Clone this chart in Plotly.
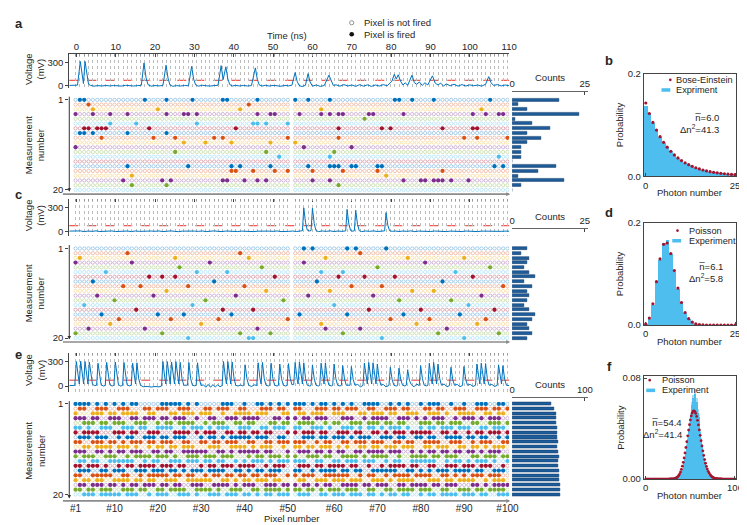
import plotly.graph_objects as go

W, H = 747, 525
FONT = "Liberation Sans, Arial, sans-serif"
TXT = "#262626"
FS = 9.5

# ---------------- data ----------------
ROW_COLORS = ["#0072BD", "#D95319", "#EDB120", "#7E2F8E", "#77AC30", "#4DBEEE", "#A2142F"]
N_PIXELS = 100
N_MEAS = 20
THRESH_MV = 72

# panel a: fired pixels for each measurement (1..20)
A_FIRED = [
    [2, 3, 17, 22, 28, 35, 36, 43, 51, 54, 59, 74, 75, 78, 83, 96],
    [4, 41],
    [5, 20, 39, 57, 94],
    [1, 5, 9, 13, 22, 26, 27, 29, 43, 46, 47, 52, 57, 59, 61, 62, 68, 69, 76, 92, 95, 98, 99],
    [67],
    [9, 15, 29, 42, 43, 45, 50],
    [3, 4, 6, 7, 8, 18, 38, 61, 71, 73, 85, 92, 93],
    [2, 3, 5, 13, 22],
    [7, 19, 24, 33, 35, 50, 61, 90, 93, 100],
    [26, 31, 37, 46, 51],
    [1, 53, 64],
    [24, 45, 60],
    [48, 59, 98],
    [],
    [13, 27, 37, 39, 46, 54, 59, 60, 61, 64, 65, 70, 71, 97, 99],
    [37, 38, 42, 47, 50, 55, 62, 70, 85],
    [14, 72],
    [12, 21, 23, 35, 36, 40, 43, 45, 55, 59, 76, 80, 81, 83, 84, 85, 87, 91],
    [14, 22, 61],
    [],
]
# panel c: fired pixels
C_FIRED = [
    [53, 55, 63, 65, 72],
    [13, 39, 66],
    [2, 24, 41, 58, 77, 90],
    [1, 14, 32, 53, 81],
    [25, 44, 70, 96],
    [8, 29, 36, 57, 62, 88],
    [18, 21, 24, 47, 61, 67, 74, 92],
    [5, 33, 56, 85],
    [12, 16, 27, 40, 64, 71, 99],
    [22, 45, 59, 78, 83],
    [6, 19, 38, 54, 69, 94],
    [10, 31, 49, 75, 87],
    [3, 28, 60, 91],
    [15, 35, 42, 68, 80, 97],
    [7, 20, 26, 37, 52, 63, 76, 89],
    [11, 23, 34, 50, 73, 82, 95],
    [9, 30, 57, 79, 93],
    [4, 17, 43, 58, 66, 86],
    [1, 21, 39, 46, 62, 84, 98],
    [27, 41, 42, 71, 90],
]
# panel e: first measurement as list, the others as fired(1)/not fired(0) strings
E_ROW1 = [1, 2, 3, 4, 6, 8, 10, 12, 14, 15, 21, 22, 23, 24, 25, 27, 29, 35, 36, 37, 40, 43, 44, 46, 48, 50,
          51, 52, 53, 55, 57, 58, 60, 62, 64, 67, 68, 69, 70, 73, 75, 77, 80, 82, 83, 84, 87, 90, 93, 94, 95,
          98, 99]
E_ROWS = [
    "0110011100 1110001101 1100111000 1101110011 0001110110 1100011101 1011100110 0111011000 1101100111 0011101101",
    "1000111011 0111100110 0011011101 1100100111 1011100011 0110111001 1100011011 1011001110 0111010011 1100110110",
    "1110110011 1001101110 1101110010 0110011101 1110001101 1011011100 0111001011 1100111010 1011100101 1101011100",
    "0011101101 1100111001 0110111100 1011100110 1100011011 0111100101 1001110111 0110110001 1101101110 0110011101",
    "1101001110 0111011001 1110010111 0101110011 1001101110 1100111010 0111010110 1011101001 0110111011 1001101110",
    "1011110001 1101100111 0001111010 1110011011 0110110001 1011101100 1110110011 0101110111 1100110100 1011011101",
    "0111011100 1011001110 1101110001 0110101111 1011100110 0011101101 1101011100 1110110011 0110011110 1101100101",
    "1100111011 0101110110 1110011001 1011011100 1100110111 1110010110 0110111011 1001101100 1111001110 0101110011",
    "0011011110 1110100101 1011011100 0111001111 0101110010 1101101110 1010011011 0111011100 1101110011 0110101110",
    "1110011010 1101110011 0110011111 1001101011 1110110001 0111011010 1100110111 1011100101 0110110110 1101011100",
    "1011100111 0010111101 1101001110 1110111000 1011011101 1001110110 0111101011 1100100111 1011011100 0110111011",
    "0110110011 1111001011 0011101110 1101100101 0111010111 1110011001 1011101110 0101100111 1110010110 1011101001",
    "1101110100 1011011110 1110110001 0110111011 1100101110 0111011011 1101100100 1011110110 0110011101 1101110010",
    "0111001101 1100111011 1011010111 0111100110 1011011100 1100101111 0110110011 1111001101 0101110111 1011001110",
    "1100111110 0110010111 1101101100 1011011011 0110111001 1011100111 1110010110 0101111011 1100110101 0111011100",
    "1011011001 1110110110 0111001111 1100110101 1011101100 0110011101 1101110011 1010111100 0111011011 1100101110",
    "0110111011 0101101110 1101100111 0011110101 1100111011 1011010110 0111101101 1100110111 1011011100 0110101111",
    "1101101110 0111011001 1011110011 1101001110 0110111101 1101101011 1011100110 0110111101 1100110011 1011011110",
    "0011101111 1011100101 1100111010 0111011101 1010110111 0111001101 1101110110 1011011001 0110111101 1101100111",
]

# voltage traces (time ns, mV)
VA_KNOTS = [
    (-1.8, 4), (-1.5, 5), (-0.5, 3), (0.3, 8), (1.0, 320), (1.5, 120), (1.8, 30), (2.2, 320), (2.7, 110),
    (3.1, 20), (3.6, 5), (4.5, -5), (5.5, 2), (6.5, -3), (7.5, 4), (8.5, -2), (9.5, 3), (10.5, 0),
    (11.5, -4), (12.5, 6), (13.5, 0), (14.5, -3), (15.5, 2), (16.5, 5), (17.2, 300), (17.7, 110),
    (18.2, 15), (19, -5), (20, 3), (21, -2), (22, 4), (22.8, 270), (23.3, 100), (23.8, 10), (24.5, -6),
    (25.5, 2), (26.5, -3), (27.5, 4), (28.5, 0), (29.3, 255), (29.8, 90), (30.3, 12), (31, -5), (32, 6),
    (33, 0), (34, -4), (35, 3), (36, 6), (36.8, 265), (37.3, 80), (38.0, 250), (38.5, 90), (39, 15),
    (39.6, -3), (40.5, 5), (41.5, -2), (42.5, 4), (43.5, -3), (44.5, 2), (45.5, 235), (46, 80), (46.5, 10),
    (47.2, -4), (48, 6), (49, -3), (50, 4), (51, 0), (52, -6), (53, 5), (54, -2), (54.8, 8), (55.6, 175),
    (56.1, 60), (56.6, 5), (57.3, -10), (58.2, 5), (58.9, 160), (59.4, 50), (60, -5), (61, 10), (62, -8),
    (63, 3), (64.2, 140), (64.8, 50), (65.3, 5), (66, 12), (67, -5), (68, 15), (69, -3), (70, 10), (71, -8),
    (72, 14), (73, -5), (74, 12), (75, -8), (76, 10), (77, -4), (78, 15), (79, 0), (80.2, 60), (80.8, 150),
    (81.3, 90), (81.8, 145), (82.4, 60), (83, 10), (83.6, 40), (84.2, 5), (85.3, 140), (85.9, 40),
    (86.5, 20), (87.2, 50), (87.9, 5), (88.6, 40), (89.3, 10), (90.5, 130), (91.2, 35), (91.9, 10),
    (92.6, 35), (93.3, -5), (94, 25), (95, 0), (96, 20), (97, -5), (98, 15), (99, -3), (100, 12), (101, 0),
    (102, 10), (103, -5), (104, 20), (104.8, 120), (105.4, 40), (106, 5), (107, 15), (108, -2), (109, 10),
    (110, 0),
]
VC_KNOTS = [
    (-1.8, 3), (-1, 5), (0, 0), (1, 6), (2, -3), (3, 4), (4, 0), (5, 6), (6, -2), (7, 3), (8, 0), (9, 5),
    (10, -2), (11, 3), (12, 0), (13, 4), (14, -3), (15, 5), (16, 0), (17, 3), (18, -2), (19, 4), (20, 1),
    (21, 5), (22, -3), (23, 2), (24, 6), (25, 0), (26, -4), (27, 3), (28, 5), (29, -2), (30, 3), (31, 0),
    (32, 5), (33, -3), (34, 2), (35, 6), (36, 0), (37, -3), (38, 4), (39, 1), (40, 5), (41, -2), (42, 3),
    (43, 0), (44, 6), (45, -3), (46, 2), (47, 4), (48, -2), (49, 3), (50, 0), (51, 5), (52, -3), (53, 3),
    (54, 0), (55, 4), (56, -2), (57, 5), (57.45, 8), (57.8, 300), (58.25, 110), (58.7, 15), (59.3, 5),
    (59.65, 10), (60.0, 295), (60.45, 100), (60.9, 10), (61.5, -3), (62.5, 5), (63.5, 0), (64.5, 6),
    (65.5, -2), (66.5, 4), (67.5, 0), (68.45, 6), (68.8, 280), (69.25, 95), (69.7, 10), (70.3, 2),
    (70.65, 8), (71.0, 270), (71.45, 90), (71.9, 8), (72.5, -3), (73.5, 5), (74.5, 0), (75.5, 6),
    (76.5, -2), (77.5, 4), (78.35, 6), (78.7, 240), (79.15, 80), (79.6, 8), (80.3, 0), (81, 5), (82, -2),
    (83, 4), (84, 0), (85, 6), (86, -3), (87, 3), (88, 0), (89, 5), (90, -2), (91, 4), (92, 0), (93, 5),
    (94, -3), (95, 3), (96, 0), (97, 5), (98, -2), (99, 4), (100, 0), (101, 5), (102, -3), (103, 3),
    (104, 1), (105, 5), (106, -2), (107, 4), (108, 0), (109, 3), (110, 1),
]
VE_KNOTS = [
    (-1.8, 5), (-0.4, 8), (0.0, 300), (0.45, 110), (0.75, 25), (1.1, 305), (1.55, 110), (1.85, 25),
    (2.2, 300), (2.65, 110), (2.95, 25), (3.3, 295), (3.75, 100), (4.1, 20), (4.7, 5), (5.15, 10),
    (5.5, 280), (5.95, 100), (6.3, 15), (6.9, 0), (7.35, 8), (7.7, 290), (8.15, 100), (8.5, 15), (9.1, 0),
    (9.55, 8), (9.9, 295), (10.35, 100), (10.7, 15), (11.3, 0), (11.75, 8), (12.1, 290), (12.55, 100),
    (12.9, 15), (13.5, 2), (13.95, 10), (14.3, 280), (14.75, 100), (15.05, 25), (15.4, 285), (15.85, 90),
    (16.3, 10), (17, -8), (18, -5), (19, -12), (20, -6), (21, -10), (21.65, 0), (22.0, 300), (22.45, 110),
    (22.75, 25), (23.1, 300), (23.55, 110), (23.85, 25), (24.2, 295), (24.65, 110), (24.95, 25),
    (25.3, 300), (25.75, 100), (26.05, 25), (26.4, 290), (26.85, 90), (27.3, 10), (27.85, 5), (28.25, 10),
    (28.6, 290), (29.05, 90), (29.5, 10), (30.05, 3), (30.45, 10), (30.8, 285), (31.25, 90), (31.7, 5),
    (32.3, 15), (32.9, -15), (33.5, 20), (34.1, -15), (34.7, 18), (35.3, -12), (35.9, 15), (36.5, -8),
    (37.05, 5), (37.4, 300), (37.85, 110), (38.15, 25), (38.5, 300), (38.95, 110), (39.25, 25),
    (39.6, 295), (40.05, 100), (40.5, 10), (41.1, 0), (41.7, 12), (42.3, 2), (42.55, 10), (42.9, 260),
    (43.35, 90), (43.8, 10), (44.5, -5), (45.3, 15), (45.85, 5), (46.2, 285), (46.65, 100), (46.95, 25),
    (47.3, 290), (47.75, 90), (48.2, 10), (48.8, 0), (49.15, 8), (49.5, 280), (49.95, 90), (50.4, 10),
    (51, 0), (51.35, 8), (51.7, 270), (52.15, 90), (52.6, 10), (53.2, 0), (53.55, 8), (53.9, 275),
    (54.35, 95), (54.8, 15), (55.25, 20), (55.6, 290), (56.05, 100), (56.35, 25), (56.7, 295),
    (57.15, 100), (57.45, 25), (57.8, 285), (58.25, 90), (58.7, 10), (59.3, 0), (59.65, 8), (60.0, 260),
    (60.45, 90), (60.9, 10), (61.5, 0), (61.85, 8), (62.2, 280), (62.65, 95), (62.95, 25), (63.3, 285),
    (63.75, 90), (64.2, 10), (64.8, 2), (65.15, 8), (65.5, 270), (65.95, 90), (66.4, 10), (67, 0),
    (67.35, 8), (67.7, 250), (68.15, 85), (68.6, 10), (69.2, 5), (69.55, 10), (69.9, 240), (70.35, 80),
    (70.8, 10), (71.5, 20), (72.2, -10), (72.85, 8), (73.2, 280), (73.65, 100), (73.95, 25), (74.3, 290),
    (74.75, 100), (75.05, 25), (75.4, 285), (75.85, 100), (76.15, 25), (76.5, 270), (76.95, 90),
    (77.4, 10), (78, 20), (78.7, -10), (79.45, 8), (79.8, 230), (80.25, 80), (80.7, 10), (81.3, 0),
    (81.65, 8), (82.0, 220), (82.45, 75), (82.9, 10), (83.5, 0), (83.85, 10), (84.2, 200), (84.65, 70),
    (85.1, 20), (85.8, -10), (86.5, 25), (87.15, 5), (87.5, 250), (87.95, 90), (88.4, 10), (89, 2),
    (89.35, 10), (89.7, 280), (90.15, 100), (90.45, 25), (90.8, 290), (91.25, 100), (91.55, 25),
    (91.9, 270), (92.35, 90), (92.8, 10), (93.5, 25), (94.2, -10), (94.85, 8), (95.2, 230), (95.65, 80),
    (96.1, 10), (96.8, 20), (97.5, -8), (98.15, 8), (98.5, 240), (98.95, 85), (99.4, 10), (100.1, 20),
    (100.8, -5), (101.45, 10), (101.8, 270), (102.25, 95), (102.55, 25), (102.9, 280), (103.35, 95),
    (103.65, 25), (104.0, 275), (104.45, 90), (104.9, 10), (105.6, 20), (106.3, -5), (106.95, 8),
    (107.3, 260), (107.75, 90), (108.05, 25), (108.4, 250), (108.85, 85), (109.3, 10), (110, 5),
]

# photon-number statistics
B_N = list(range(26))
B_THEORY = [0.1429, 0.1224, 0.1050, 0.0900, 0.0771, 0.0661, 0.0567, 0.0486, 0.0416, 0.0357, 0.0306, 0.0262,
            0.0225, 0.0193, 0.0165, 0.0142, 0.0121, 0.0104, 0.0089, 0.0077, 0.0066, 0.0056, 0.0048, 0.0041,
            0.0035, 0.0030]
B_EXP = [0.137, 0.121, 0.104, 0.091, 0.078, 0.066, 0.057, 0.049, 0.042, 0.036, 0.031, 0.026, 0.022, 0.019,
         0.016, 0.014, 0.012, 0.010, 0.009, 0.008, 0.007, 0.006, 0.005, 0.004, 0.004, 0.003]
D_N = list(range(26))
D_THEORY = [0.0022, 0.0137, 0.0417, 0.0849, 0.1294, 0.1579, 0.1605, 0.1399, 0.1066, 0.0723, 0.0441, 0.0245,
            0.0124, 0.0058, 0.0025, 0.0010, 0.0004, 0.0001, 0, 0, 0, 0, 0, 0, 0, 0]
D_EXP = [0.002, 0.012, 0.040, 0.083, 0.128, 0.160, 0.166, 0.140, 0.104, 0.071, 0.044, 0.024, 0.012, 0.006,
         0.002, 0.001, 0, 0, 0, 0, 0, 0, 0, 0, 0, 0]
F_N = list(range(101))
F_THEORY = ([0.0] * 27 +
            [0.00002, 0.00003, 0.00006, 0.00010, 0.00018, 0.00031, 0.00051, 0.00082, 0.00128, 0.00193,
             0.00284, 0.00406, 0.00566, 0.00770, 0.01022, 0.01324, 0.01675, 0.02071, 0.02503, 0.02960,
             0.03426, 0.03883, 0.04311, 0.04690, 0.05003, 0.05234, 0.05372, 0.05412, 0.05353, 0.05200,
             0.04963, 0.04655, 0.04292, 0.03891, 0.03470, 0.03045, 0.02629, 0.02235, 0.01871, 0.01542,
             0.01252, 0.01002, 0.00790, 0.00614, 0.00470, 0.00355, 0.00265, 0.00195, 0.00141, 0.00101,
             0.00071, 0.00050, 0.00034, 0.00023, 0.00016, 0.00010, 0.00007, 0.00004, 0.00003] +
            [0.0] * 15)
F_EXP_N = list(range(36, 74))
F_EXP = [0.0010, 0.0016, 0.0025, 0.0034, 0.0052, 0.0070, 0.0099, 0.0127, 0.0170, 0.0210, 0.0268, 0.0316,
         0.0382, 0.0430, 0.0497, 0.0532, 0.0585, 0.0640, 0.0612, 0.0672, 0.0590, 0.0610, 0.0524, 0.0488,
         0.0418, 0.0372, 0.0302, 0.0258, 0.0198, 0.0163, 0.0118, 0.0093, 0.0064, 0.0049, 0.0031, 0.0023,
         0.0014, 0.0009]
# lighter upper envelope of the measured histogram around the peak (panel f)
F_ENV_N = list(range(46, 65))
F_ENV = [0.0290, 0.0340, 0.0405, 0.0458, 0.0522, 0.0565, 0.0612, 0.0668, 0.0660, 0.0712, 0.0628, 0.0642,
         0.0556, 0.0515, 0.0445, 0.0396, 0.0325, 0.0278, 0.0214]

PIX_TICKS = [1, 10, 20, 30, 40, 50, 60, 70, 80, 90, 100]


def bits_to_fired(s):
    b = s.replace(" ", "")[:N_PIXELS]
    return [i + 1 for i, ch in enumerate(b) if ch == "1"]


E_FIRED = [E_ROW1] + [bits_to_fired(s) for s in E_ROWS]

# ---------------- geometry (pixels of the 747x525 page) ----------------
X_LEFT, X_RIGHT = 59.3, 507.0
PIX1_X, PIX_STEP, GAP = 65.7, 4.408, 0.72
T_RANGE = [-1.8, 110]
CNT_X0, CNT_X1, CNT_UNIT_END = 510.0, 587.0, 584.0
HIST_X0, HIST_X1 = 644.0, 738.0

PANELS = [
    dict(key="a", fired=A_FIRED, knots=VA_KNOTS, top=41.3, bot=76.0, v0=73.3, v300=50.0,
         r1=87.7, r20=179.7, rtop=85.0, rbot=184.0, cline=79.3, cmax=25, label_y=10,
         cnt_title_y=65, time_labels=True),
    dict(key="c", fired=C_FIRED, knots=VC_KNOTS, top=189.0, bot=227.0, v0=222.0, v300=198.0,
         r1=239.5, r20=331.0, rtop=236.5, rbot=335.0, cline=219.5, cmax=25, label_y=184,
         cnt_title_y=207, time_labels=False),
    dict(key="e", fired=E_FIRED, knots=VE_KNOTS, top=346.0, bot=386.0, v0=380.0, v300=355.0,
         r1=398.3, r20=490.7, rtop=396.0, rbot=497.3, cline=392.5, cmax=100, label_y=348,
         cnt_title_y=378, time_labels=False),
]


def pos(c):
    return c + (GAP if c > 50 else 0)


PIX_RANGE = [1 - (PIX1_X - X_LEFT) / PIX_STEP, 1 + (X_RIGHT - PIX1_X) / PIX_STEP]


def xd(x0, x1):
    return [x0 / W, x1 / W]


def yd(ytop, ybot):
    return [1 - ybot / H, 1 - ytop / H]


fig = go.Figure()
layout = {}
ann = []
shapes = []
cnt = [0]

AXCOMMON = dict(showgrid=False, zeroline=False, fixedrange=True, color=TXT,
                tickfont=dict(size=FS, family=FONT, color=TXT), linecolor="#444444", linewidth=1,
                tickcolor="#444444", tickwidth=1)


def new_axes(xdom, ydom, xo, yo):
    cnt[0] += 1
    i = cnt[0]
    s = "" if i == 1 else str(i)
    xa = dict(AXCOMMON)
    xa.update(domain=xdom, anchor="y" + s)
    xa.update(xo)
    ya = dict(AXCOMMON)
    ya.update(domain=ydom, anchor="x" + s)
    ya.update(yo)
    layout["xaxis" + s] = xa
    layout["yaxis" + s] = ya
    return "x" + s, "y" + s


def text(x, y, s, size=FS, xanchor="center", yanchor="middle", angle=0, bold=False, color=TXT):
    if bold:
        s = "<b>" + s + "</b>"
    ann.append(dict(x=x / W, y=1 - y / H, xref="paper", yref="paper", text=s, showarrow=False,
                    xanchor=xanchor, yanchor=yanchor, textangle=angle,
                    font=dict(size=size, family=FONT, color=color)))


def light(hexc, a=0.4):
    r, g, b = int(hexc[1:3], 16), int(hexc[3:5], 16), int(hexc[5:7], 16)
    return f"rgba({r},{g},{b},{a})"


for P in PANELS:
    # ---- voltage trace
    s = (P["v0"] - P["v300"]) / 300.0
    vr = [-(P["bot"] - P["v0"]) / s, (P["v0"] - P["top"]) / s]
    xo = dict(range=T_RANGE, side="top", showline=P["time_labels"], ticks="inside", ticklen=3,
              tickvals=list(range(0, 111, 10)), showticklabels=P["time_labels"])
    yo = dict(range=vr, showline=True, ticks="outside", ticklen=3, tickvals=[0, 300])
    xv, yv = new_axes(xd(X_LEFT, X_RIGHT), yd(P["top"], P["bot"]), xo, yo)
    fig.add_trace(go.Scatter(x=[k[0] for k in P["knots"]], y=[k[1] for k in P["knots"]], mode="lines",
                             line=dict(color="#0072BD", width=1),
                             xaxis=xv, yaxis=yv, showlegend=False, hoverinfo="skip"))
    shapes.append(dict(type="line", xref=xv + " domain", x0=0, x1=1, yref=yv, y0=THRESH_MV, y1=THRESH_MV,
                       line=dict(color="#E5342B", width=1, dash="dash"), layer="below"))

    # ---- dot matrix
    dr = (P["r20"] - P["r1"]) / 19.0
    yr_rows = [1 + (P["rbot"] - P["r1"]) / dr, 1 + (P["rtop"] - P["r1"]) / dr]
    is_e = P["key"] == "e"
    xo = dict(range=PIX_RANGE, showline=False, ticks="",
              tickvals=[pos(c) for c in PIX_TICKS] if is_e else [],
              ticktext=["#%d" % c for c in PIX_TICKS] if is_e else [],
              showticklabels=is_e, tickfont=dict(size=10, family=FONT, color=TXT))
    yo = dict(range=yr_rows, showline=False, ticks="outside", ticklen=3, tickvals=[1, 20])
    xm, ym = new_axes(xd(X_LEFT, X_RIGHT), yd(P["rtop"], P["rbot"]), xo, yo)

    # dotted grid of the voltage panel at the pixel columns (overlay axis on the voltage y axis)
    cnt[0] += 1
    gname = str(cnt[0])
    layout["xaxis" + gname] = dict(overlaying=xv, anchor=yv, range=PIX_RANGE, side="top",
                                   tickvals=[pos(c) for c in range(1, N_PIXELS + 1)],
                                   showticklabels=False, ticks="inside", ticklen=2, tickcolor="#999999",
                                   showgrid=True, gridcolor="#BDBDBD", gridwidth=0.8, griddash="dot",
                                   zeroline=False, fixedrange=True, showline=False)
    fig.add_trace(go.Scatter(x=[], y=[], xaxis="x" + gname, yaxis=yv, showlegend=False))

    hx, hy, hc, fx, fy, fc = [], [], [], [], [], []
    for r in range(N_MEAS):
        col = ROW_COLORS[r % 7]
        fired = set(P["fired"][r])
        for c in range(1, N_PIXELS + 1):
            if c in fired:
                fx.append(pos(c)); fy.append(r + 1); fc.append(col)
            else:
                hx.append(pos(c)); hy.append(r + 1); hc.append(light(col))
    fig.add_trace(go.Scatter(x=hx, y=hy, mode="markers", xaxis=xm, yaxis=ym, showlegend=False,
                             hoverinfo="skip",
                             marker=dict(symbol="circle-open", size=3.3, color=hc, line=dict(width=0.8))))
    fig.add_trace(go.Scatter(x=fx, y=fy, mode="markers", xaxis=xm, yaxis=ym, showlegend=False,
                             hoverinfo="skip", marker=dict(symbol="circle", size=4.3, color=fc,
                                                           line=dict(width=0))))
    # axes lines with arrows
    ann.append(dict(x=X_LEFT / W, y=1 - (P["rbot"] - 2.5) / H, xref="paper", yref="paper", text="",
                    showarrow=True, ax=0, ay=-(P["rbot"] - 2.5 - P["rtop"]), axref="pixel", ayref="pixel",
                    arrowhead=2, arrowsize=0.7, arrowwidth=1, arrowcolor="#333333", standoff=0))
    ann.append(dict(x=(X_RIGHT + 1) / W, y=1 - P["rbot"] / H, xref="paper", yref="paper", text="",
                    showarrow=True, ax=-(X_RIGHT + 1 - X_LEFT), ay=0, axref="pixel", ayref="pixel",
                    arrowhead=2, arrowsize=0.5, arrowwidth=1.6, arrowcolor="#8C8C8C", standoff=0))

    # ---- counts
    counts = [len(f) for f in P["fired"]]
    cr = [1 + (P["rbot"] - P["r1"]) / dr, 1 + (P["cline"] - P["r1"]) / dr]
    cmax_range = P["cmax"] * (CNT_X1 - CNT_X0) / (CNT_UNIT_END - CNT_X0)
    xo = dict(range=[0, cmax_range], side="top", showline=True, ticks="inside", ticklen=3,
              tickvals=[0, P["cmax"]], linecolor="#666666")
    yo = dict(range=cr, showline=False, showticklabels=False, ticks="")
    xc, yc = new_axes(xd(CNT_X0, CNT_X1), yd(P["cline"], P["rbot"]), xo, yo)
    fig.add_trace(go.Bar(x=counts, y=list(range(1, N_MEAS + 1)), orientation="h", width=0.64,
                         marker=dict(color="#1E5C9A", line=dict(color="#0E3864", width=0.5)),
                         xaxis=xc, yaxis=yc, showlegend=False, hoverinfo="skip"))
    text((CNT_X0 + CNT_UNIT_END) / 2 + 2, P["cnt_title_y"], "Counts")

    # ---- labels
    text(8, P["label_y"], P["key"], size=13, bold=True)
    text(24, (P["top"] + P["bot"]) / 2 - 2, "Voltage<br>(mV)", angle=-90)
    text(24, (P["rtop"] + P["rbot"]) / 2, "Measurement<br>number", angle=-90)

text(281, 22, "Time (ns)")
text(285, 515, "Pixel number")
# pixel legend
shapes.append(dict(type="circle", xref="paper", yref="paper", x0=344.6 / W, x1=348.9 / W,
                   y0=1 - 11.1 / H, y1=1 - 6.8 / H, line=dict(color="#777777", width=0.8)))
shapes.append(dict(type="circle", xref="paper", yref="paper", x0=344.4 / W, x1=349.1 / W,
                   y0=1 - 23.0 / H, y1=1 - 18.3 / H, fillcolor="#111111", line=dict(width=0)))
text(357, 9, "Pixel is not fired", xanchor="left")
text(357, 20.7, "Pixel is fired", xanchor="left")

# ---------------- photon statistics panels ----------------
HISTS = [
    dict(key="b", n=B_N, th=B_THEORY, en=B_N, ex=B_EXP, top=61.0, bot=165.7, xr=[-0.55, 25.3],
         ymax=0.2, yt=[0, 0.2], yf=".1f", xt=[0, 25], name="Bose-Einstein", ex_name="Expriment",
         leg_x=671, leg_y=67.2, sw_x=662, txt_x=675, stat_x=723, stat_y=105.7, nbar="6.0", dn="41.3",
         label_y=47),
    dict(key="d", n=D_N, th=D_THEORY, en=D_N, ex=D_EXP, top=213.3, bot=317.7, xr=[-0.55, 25.3],
         ymax=0.2, yt=[0, 0.2], yf=".1f", xt=[0, 25], name="Poisson", ex_name="Experiment",
         leg_x=678.3, leg_y=221.2, sw_x=673, txt_x=687.7, stat_x=727, stat_y=258, nbar="6.1", dn="5.8",
         label_y=203),
    dict(key="f", n=F_N, th=F_THEORY, en=F_EXP_N, ex=F_EXP, top=370.0, bot=475.0, xr=[-2.2, 101.3],
         ymax=0.0815, yt=[0, 0.08], yf=".2f", xt=[0, 100], name="Poisson", ex_name="Experiment",
         leg_x=650, leg_y=374.0, sw_x=646.5, txt_x=660, stat_x=685, stat_y=417.3, nbar="54.4", dn="41.4",
         label_y=360),
]
for Hd in HISTS:
    xo = dict(range=Hd["xr"], showline=True, mirror=True, ticks="inside", ticklen=3, tickvals=Hd["xt"])
    yo = dict(range=[0, Hd["ymax"]], showline=True, mirror=True, ticks="inside", ticklen=3,
              tickvals=Hd["yt"], tickformat=Hd["yf"])
    xh, yh = new_axes(xd(HIST_X0, HIST_X1), yd(Hd["top"], Hd["bot"]), xo, yo)
    if Hd["key"] == "f":
        fig.add_trace(go.Bar(x=F_ENV_N, y=F_ENV, width=1.0, marker=dict(color="#A8DCF4", line=dict(width=0)),
                             xaxis=xh, yaxis=yh, showlegend=False, hoverinfo="skip"))
    fig.add_trace(go.Bar(x=Hd["en"], y=Hd["ex"], width=1.0, marker=dict(color="#4DBEEE", line=dict(width=0)),
                         xaxis=xh, yaxis=yh, showlegend=False, hoverinfo="skip"))
    fig.add_trace(go.Scatter(x=Hd["n"], y=Hd["th"], mode="markers",
                             marker=dict(color="#A2142F", size=3.2 if Hd["key"] != "f" else 2.8),
                             xaxis=xh, yaxis=yh, showlegend=False, hoverinfo="skip"))
    # legend
    lx, ly = Hd["leg_x"], Hd["leg_y"]
    shapes.append(dict(type="circle", xref="paper", yref="paper", x0=(lx - 1.4) / W, x1=(lx + 1.4) / W,
                       y0=1 - (ly + 1.4) / H, y1=1 - (ly - 1.4) / H, fillcolor="#A2142F", line=dict(width=0)))
    shapes.append(dict(type="rect", xref="paper", yref="paper", x0=Hd["sw_x"] / W, x1=(Hd["sw_x"] + 9) / W,
                       y0=1 - (ly + 12.2) / H, y1=1 - (ly + 8.6) / H, fillcolor="#4DBEEE", line=dict(width=0)))
    text(Hd["txt_x"], ly, Hd["name"], size=9.2, xanchor="left")
    text(Hd["txt_x"], ly + 10.4, Hd["ex_name"], size=9.2, xanchor="left")
    text(Hd["stat_x"], Hd["stat_y"], "n\u0305=" + Hd["nbar"], xanchor="right")
    text(Hd["stat_x"], Hd["stat_y"] + 11.5, "\u0394n<sup>2</sup>=" + Hd["dn"], xanchor="right")
    text(620, (Hd["top"] + Hd["bot"]) / 2, "Probability", angle=-90)
    text(691, Hd["bot"] + 17, "Photon number")
    text(609, Hd["label_y"], Hd["key"], size=13, bold=True)

layout.update(width=W, height=H, margin=dict(l=0, r=0, t=0, b=0), paper_bgcolor="white",
              plot_bgcolor="rgba(0,0,0,0)", showlegend=False, annotations=ann, shapes=shapes,
              font=dict(family=FONT, size=FS, color=TXT), bargap=0, barmode="overlay")
fig.update_layout(**layout)
fig.write_html("out.html")
